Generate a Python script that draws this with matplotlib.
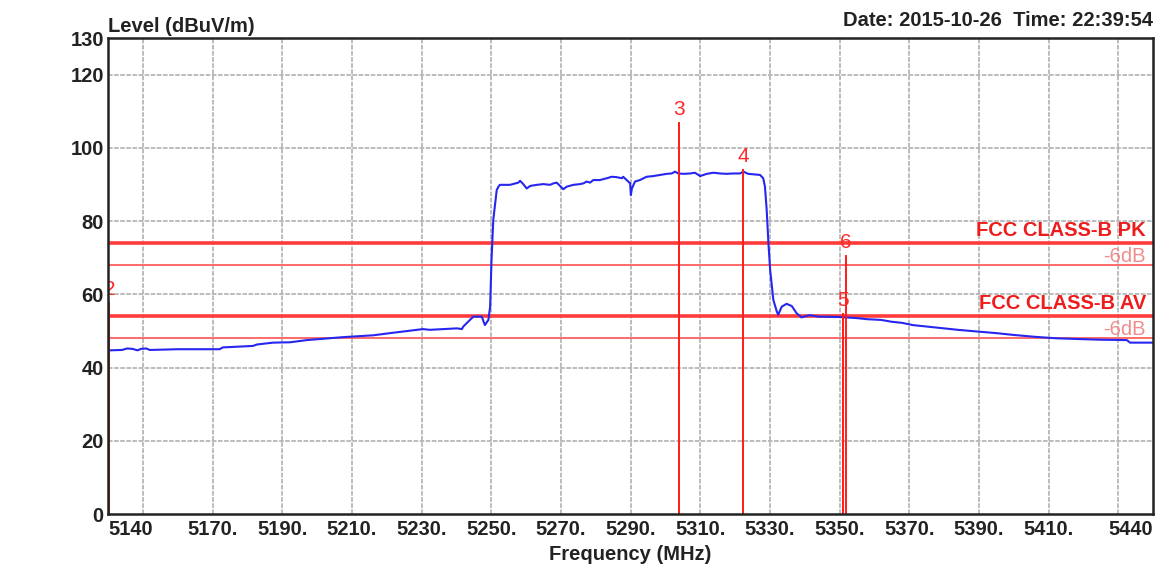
import matplotlib
matplotlib.use("Agg")
import matplotlib.pyplot as plt
import matplotlib.transforms as mtransforms

# ---------------- data ----------------
trace_freq = [5140.0, 5140.6, 5144.0, 5145.5, 5147.0, 5148.5, 5149.5, 5151.0, 5152.0, 5160.0,
              5172.0, 5173.0, 5181.6, 5182.8, 5187.4, 5192.3, 5197.1, 5207.5, 5216.1, 5221.0,
              5230.4, 5232.4, 5240.2, 5241.6, 5242.0, 5243.9, 5244.9, 5245.9, 5247.3, 5248.2,
              5249.2, 5249.7, 5250.1, 5250.6, 5251.6, 5252.1, 5252.5, 5255.4, 5257.8, 5258.3,
              5259.2, 5260.2, 5261.2, 5263.1, 5265.0, 5266.9, 5267.9, 5268.8, 5270.2, 5270.7,
              5271.7, 5273.6, 5275.5, 5276.5, 5277.4, 5278.4, 5279.3, 5281.2, 5283.2, 5284.6,
              5286.0, 5287.5, 5287.9, 5288.9, 5289.9, 5290.1, 5290.4, 5291.3, 5292.7, 5294.6,
              5296.6, 5298.5, 5300.4, 5301.8, 5302.8, 5303.7, 5305.2, 5307.1, 5308.5, 5310.0,
              5311.9, 5313.8, 5315.7, 5317.6, 5319.5, 5321.4, 5322.4, 5323.8, 5327.2, 5328.1,
              5328.6, 5329.1, 5329.6, 5330.1, 5331.0, 5332.0, 5332.4, 5333.4, 5334.8, 5336.3,
              5337.7, 5339.1, 5340.6, 5341.5, 5344.0, 5350.0, 5355.0, 5358.0, 5362.0, 5365.0,
              5368.0, 5371.0, 5375.0, 5379.0, 5384.0, 5390.0, 5395.0, 5400.0, 5406.0, 5412.0,
              5418.0, 5425.0, 5432.5, 5433.4, 5440.0]
trace_level = [44.8, 44.7, 44.8, 45.2, 45.1, 44.7, 45.1, 45.2, 44.8, 45.0,
               45.0, 45.5, 45.9, 46.3, 46.8, 46.9, 47.5, 48.3, 48.8, 49.4,
               50.5, 50.3, 50.7, 50.5, 51.2, 53.0, 53.9, 53.9, 53.9, 51.6,
               53.0, 56.6, 69.4, 80.3, 88.5, 89.4, 89.9, 89.9, 90.5, 91.0,
               90.1, 88.9, 89.6, 89.9, 90.1, 89.9, 90.3, 90.5, 89.2, 88.7,
               89.4, 89.9, 90.1, 90.3, 90.8, 90.5, 91.2, 91.2, 91.7, 92.1,
               92.0, 91.7, 92.1, 91.2, 90.3, 87.1, 88.9, 90.8, 91.2, 92.1,
               92.3, 92.6, 92.9, 93.0, 93.5, 93.0, 92.9, 93.0, 93.2, 92.3,
               92.9, 93.2, 93.0, 92.9, 93.0, 93.0, 93.5, 92.9, 92.6, 91.7,
               89.4, 83.0, 73.9, 66.6, 58.5, 55.3, 54.4, 56.6, 57.4, 56.8,
               54.8, 53.7, 54.1, 54.3, 53.9, 53.8, 53.5, 53.2, 53.0, 52.5,
               52.2, 51.6, 51.2, 50.8, 50.3, 49.8, 49.4, 48.9, 48.4, 48.0,
               47.8, 47.6, 47.5, 46.8, 46.8]

marker_ids = ["2", "3", "4", "5", "6"]
marker_freq = [5140.4, 5303.9, 5322.3, 5351.0, 5351.9]
marker_level = [57.6, 106.7, 94.0, 54.5, 70.5]

limit_names = ["FCC CLASS-B PK", "FCC CLASS-B AV"]
limit_levels = [74, 54]
limit_margin = 6

x_tick_values = [5140, 5170, 5190, 5210, 5230, 5250, 5270, 5290, 5310, 5330,
                 5350, 5370, 5390, 5410, 5440]
x_tick_labels = ["5140", "5170.", "5190.", "5210.", "5230.", "5250.", "5270.", "5290.",
                 "5310.", "5330.", "5350.", "5370.", "5390.", "5410.", "5440"]
x_grid = [5150, 5170, 5190, 5210, 5230, 5250, 5270, 5290, 5310, 5330, 5350,
          5370, 5390, 5410, 5430]
y_tick_values = [0, 20, 40, 60, 80, 100, 120, 130]
y_grid = [20, 40, 60, 80, 100, 120]

title_left = "Level (dBuV/m)"
title_right = "Date: 2015-10-26  Time: 22:39:54"
x_label = "Frequency (MHz)"

# ---------------- figure ----------------
plt.rcParams["font.family"] = ["Liberation Sans", "DejaVu Sans"]
W, H = 1175, 570
fig = plt.figure(figsize=(W / 100, H / 100), dpi=100)
fig.patch.set_facecolor("white")
ax = fig.add_axes([108 / W, 1 - 514 / H, 1045 / W, 476 / H])
ax.set_xlim(5140, 5440)
ax.set_ylim(0, 130)

grid_kw = dict(color="#a9a9a9", lw=1.1, ls=(0, (3, 1)), zorder=1)
for g in x_grid:
    ax.axvline(g, **grid_kw)
for g in y_grid:
    ax.axhline(g, **grid_kw)

# limit lines
for name, lvl in zip(limit_names, limit_levels):
    ax.axhline(lvl, color="#ff3b3b", lw=2.6, zorder=2)
    ax.axhline(lvl - limit_margin, color="#ff6a6a", lw=1.4, zorder=2)
    tr = mtransforms.blended_transform_factory(ax.transAxes, ax.transData)
    ax.annotate(name, xy=(1, lvl), xycoords=tr, xytext=(-5, 2.5),
                textcoords="offset points", ha="right", va="bottom",
                fontsize=14.5, fontweight="bold", color="#ee1c1c", zorder=5)
    ax.annotate("-%ddB" % limit_margin, xy=(1, lvl), xycoords=tr, xytext=(-5, -2.5),
                textcoords="offset points", ha="right", va="top",
                fontsize=14.5, color="#f28c8c", zorder=5)

# trace
ax.plot(trace_freq, trace_level, color="#2626f0", lw=1.5, zorder=3)

# markers
for mid, mf, ml in zip(marker_ids, marker_freq, marker_level):
    ax.plot([mf, mf], [0, ml], color="#ff1a1a", lw=1.4, zorder=4, clip_on=False)
    ax.annotate(mid, xy=(mf, ml), xytext=(0, 3), textcoords="offset points",
                ha="center", va="bottom", fontsize=15, color="#ff2a2a",
                zorder=5, annotation_clip=False, clip_on=True)

# ticks
ax.set_xticks(x_tick_values)
ax.set_xticklabels(x_tick_labels, fontsize=14.5, fontweight="bold", color="#222222")
ax.set_yticks(y_tick_values)
ax.set_yticklabels([str(v) for v in y_tick_values], fontsize=14.5,
                   fontweight="bold", color="#222222")
ax.tick_params(axis="both", length=0)
ax.tick_params(axis="x", pad=4)
ax.tick_params(axis="y", pad=3)
xl = ax.get_xticklabels()
xl[0].set_horizontalalignment("left")
xl[-1].set_horizontalalignment("right")

for sp in ax.spines.values():
    sp.set_linewidth(1.8)
    sp.set_color("#222222")
    sp.set_zorder(6)

fig.text(108 / W, 1 - 26 / H, title_left, ha="left", va="center",
         fontsize=14.5, fontweight="bold", color="#222222")
fig.text(1153 / W, 1 - 20 / H, title_right, ha="right", va="center",
         fontsize=14.5, fontweight="bold", color="#222222")
fig.text(630 / W, 1 - 555 / H, x_label, ha="center", va="center",
         fontsize=14.5, fontweight="bold", color="#222222")

fig.savefig("out.png", dpi=100, facecolor="white")
